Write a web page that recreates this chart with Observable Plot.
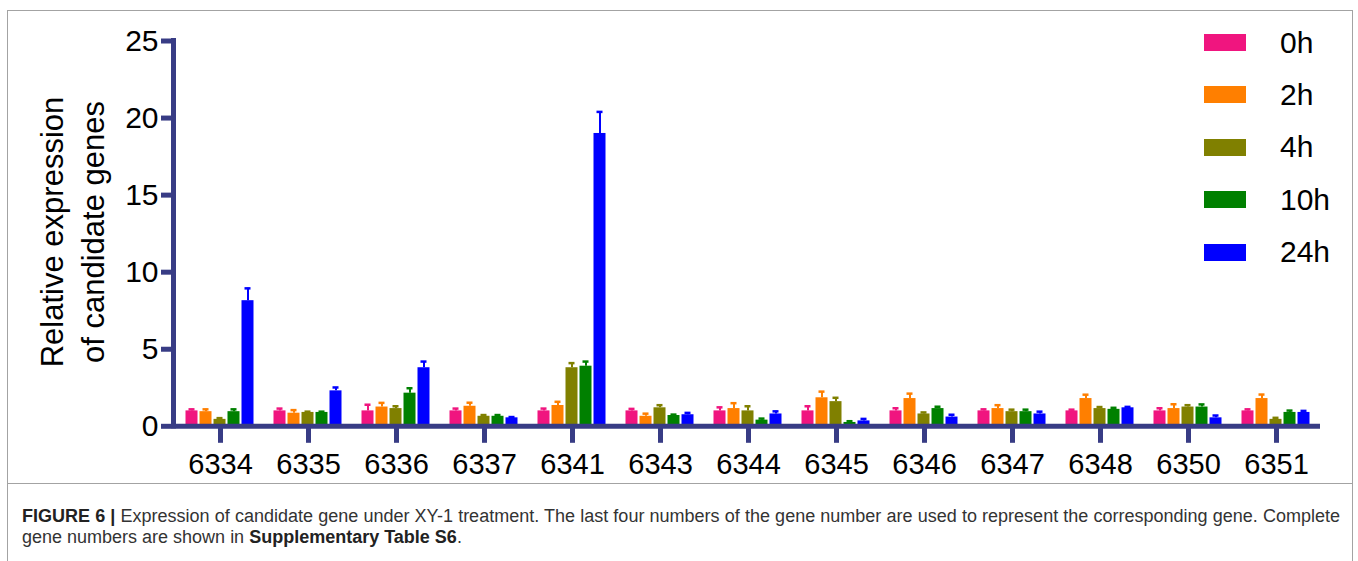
<!DOCTYPE html>
<html>
<head>
<meta charset="utf-8">
<script src="https://cdn.jsdelivr.net/npm/d3@7"></script>
<script src="https://cdn.jsdelivr.net/npm/@observablehq/plot@0.6"></script>
<style>
  body { margin: 0; background: #fff; font-family: "Liberation Sans", Arial, Helvetica, sans-serif; }
  #figure { position: relative; width: 1358px; height: 561px; overflow: hidden; background: #fff; }
  .frame { position: absolute; left: 7px; top: 10px; width: 1344px; height: 620px; border: 1px solid #a3a3a3; }
  .divider { position: absolute; left: 7px; top: 483px; width: 1346px; height: 1px; background: #a3a3a3; }
  #chart { position: absolute; left: 0; top: 0; }
  .swatch { position: absolute; width: 42px; height: 17px; }
  .key { position: absolute; font-size: 30px; line-height: 30px; color: #000; }
  .caption { position: absolute; left: 22px; width: 1318px; font-size: 18px; line-height: 22px; color: #333; white-space: nowrap; }
  .caption b { color: #222; }
  .justify { text-align: justify; text-align-last: justify; white-space: normal; }
</style>
</head>
<body>
<div id="figure">
  <div class="frame"></div>
  <div class="divider"></div>
  <div id="chart"></div>
  <div id="legend"></div>
  <div class="caption justify" style="top:505px"><b>FIGURE 6 |</b> Expression of candidate gene under XY-1 treatment. The last four numbers of the gene number are used to represent the corresponding gene. Complete</div>
  <div class="caption" style="top:526px">gene numbers are shown in <b>Supplementary Table S6</b>.</div>
</div>
<script>
// Gene identifiers (last four digits) along the x axis
const genes = ["6334", "6335", "6336", "6337", "6341", "6343", "6344", "6345", "6346", "6347", "6348", "6350", "6351"];

// Sampling times after XY-1 treatment and their colours
const times = ["0h", "2h", "4h", "10h", "24h"];
const timeColors = ["#f0157f", "#ff7f00", "#808000", "#008000", "#0000ff"];

// Mean relative expression per gene, one array per time point
const mean0h  = [1.0, 1.0, 1.0, 1.0, 1.0, 1.0, 1.0, 1.0, 1.0, 1.0, 1.0, 1.0, 1.0];
const mean2h  = [0.95, 0.85, 1.25, 1.3, 1.35, 0.65, 1.15, 1.85, 1.8, 1.15, 1.8, 1.15, 1.8];
const mean4h  = [0.45, 0.9, 1.15, 0.65, 3.8, 1.2, 1.0, 1.6, 0.8, 0.95, 1.15, 1.25, 0.45];
const mean10h = [0.95, 0.9, 2.15, 0.65, 3.9, 0.7, 0.4, 0.25, 1.15, 0.95, 1.1, 1.25, 0.9];
const mean24h = [8.15, 2.3, 3.8, 0.55, 19.0, 0.75, 0.8, 0.35, 0.6, 0.8, 1.2, 0.55, 0.9];

// Standard error (upper half of the error bar)
const err0h  = [0.1, 0.15, 0.4, 0.15, 0.15, 0.13, 0.23, 0.3, 0.17, 0.1, 0.08, 0.17, 0.1];
const err2h  = [0.15, 0.2, 0.27, 0.23, 0.24, 0.17, 0.35, 0.4, 0.32, 0.22, 0.25, 0.28, 0.26];
const err4h  = [0.08, 0.05, 0.15, 0.08, 0.3, 0.17, 0.3, 0.25, 0.1, 0.13, 0.1, 0.12, 0.1];
const err10h = [0.15, 0.05, 0.32, 0.08, 0.3, 0.06, 0.1, 0.08, 0.12, 0.13, 0.1, 0.17, 0.12];
const err24h = [0.8, 0.22, 0.4, 0.05, 1.4, 0.12, 0.17, 0.13, 0.15, 0.15, 0.06, 0.15, 0.1];

// Y-axis ticks
const yTicks = [0, 5, 10, 15, 20, 25];

const means = [mean0h, mean2h, mean4h, mean10h, mean24h];
const errs = [err0h, err2h, err4h, err10h, err24h];
const rows = genes.flatMap((gene, i) =>
  times.map((time, j) => ({gene, time, value: means[j][i], err: errs[j][i]}))
);

const axisColor = "#383c85";
const font = '"Liberation Sans", Arial, Helvetica, sans-serif';
const marginLeft = 173.5;

const chart = Plot.plot({
  width: 1358,
  height: 483,
  marginTop: 40.5,
  marginBottom: 57.2,
  marginLeft,
  marginRight: 36.5,
  style: {fontFamily: font, background: "transparent", color: "#000", overflow: "visible"},
  fx: {domain: genes, padding: 0, label: null},
  x: {domain: times, paddingInner: 0.11, paddingOuter: 0.58, axis: null},
  y: {domain: [0, 25], label: null},
  color: {domain: times, range: timeColors},
  marks: [
    Plot.barY(rows, {fx: "gene", x: "time", y: "value", fill: "time"}),
    Plot.ruleX(rows, {fx: "gene", x: "time", y1: "value", y2: d => d.value + d.err, stroke: "time", strokeWidth: 2}),
    Plot.tickY(rows, {fx: "gene", x: "time", y: d => d.value + d.err, stroke: "time", strokeWidth: 2.5, insetLeft: 3, insetRight: 3}),
    Plot.ruleY([0], {stroke: axisColor, strokeWidth: 5}),
    Plot.axisY({
      ticks: yTicks, tickSize: 15, tickPadding: 3,
      stroke: axisColor, strokeWidth: 5, fill: "#000", fontSize: 30, label: null
    }),
    Plot.axisFx({
      anchor: "bottom", tickSize: 17, tickPadding: 10,
      stroke: axisColor, strokeWidth: 5, fill: "#000", fontSize: 29, label: null
    })
  ]
});
document.getElementById("chart").appendChild(chart);

const svg = d3.select(chart);
const yScale = chart.scale("y");

// Vertical y-axis line along the left edge of the plot area
svg.append("line")
  .attr("x1", marginLeft).attr("x2", marginLeft)
  .attr("y1", yScale.apply(0) + 2.5)
  .attr("y2", yScale.apply(yTicks[yTicks.length - 1]) - 2.5)
  .attr("stroke", axisColor)
  .attr("stroke-width", 5);

// Two-line rotated y-axis title
[["Relative expression", 52], ["of candidate genes", 93]].forEach(([text, x]) => {
  svg.append("text")
    .attr("transform", `translate(${x},232) rotate(-90)`)
    .attr("text-anchor", "middle")
    .attr("dominant-baseline", "central")
    .attr("font-family", font)
    .attr("font-size", 31)
    .attr("fill", "#000")
    .text(text);
});

// Legend: swatch + label per time point
const legend = document.getElementById("legend");
times.forEach((t, i) => {
  const cy = 42.5 + i * 52.4;
  const sw = document.createElement("div");
  sw.className = "swatch";
  sw.style.left = "1204px";
  sw.style.top = (cy - 8.5) + "px";
  sw.style.background = timeColors[i];
  legend.appendChild(sw);
  const lab = document.createElement("div");
  lab.className = "key";
  lab.style.left = "1280px";
  lab.style.top = (cy - 15) + "px";
  lab.textContent = t;
  legend.appendChild(lab);
});
</script>
</body>
</html>
